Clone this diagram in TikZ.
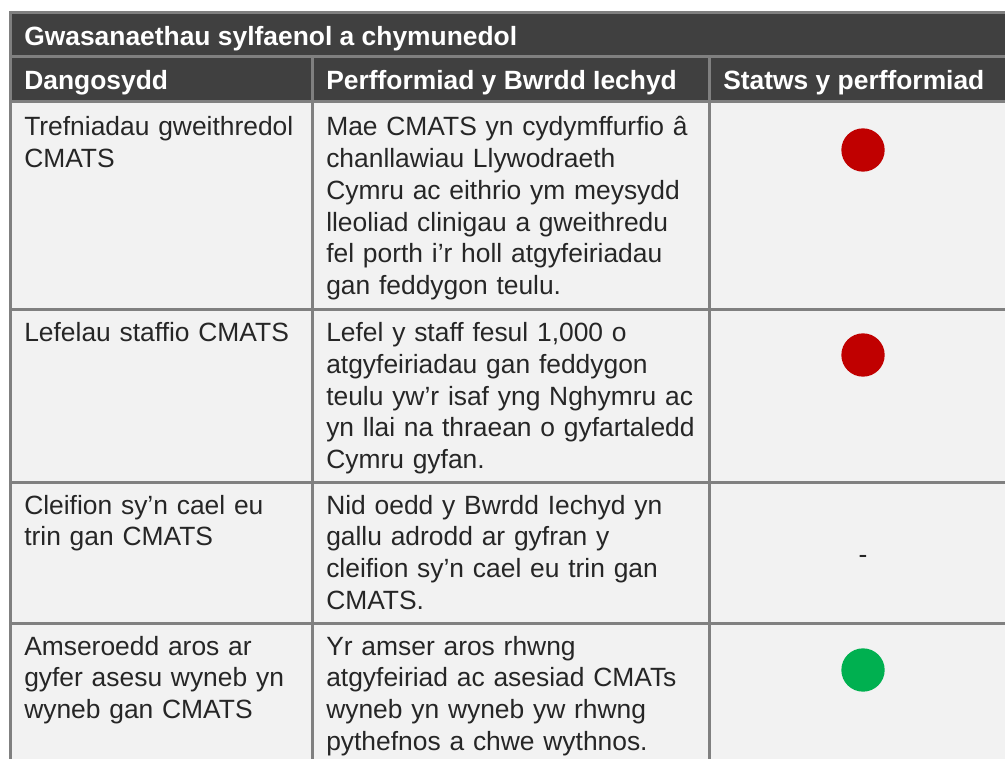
\documentclass[tikz,border=0pt]{standalone}
\usepackage{fontspec}
\setmainfont{Liberation Sans}
\definecolor{headgrey}{HTML}{404040}
\definecolor{cellgrey}{HTML}{F2F2F2}
\definecolor{rulegrey}{HTML}{808080}
\definecolor{textgrey}{HTML}{262626}
\definecolor{ragred}{HTML}{C00000}
\definecolor{raggreen}{HTML}{00B050}

\begin{document}
\begin{tikzpicture}[x=0.75pt,y=-0.75pt,
  every node/.style={inner sep=0pt,anchor=base west,align=left,text=textgrey,
    font=\fontsize{19.8}{23.8}\selectfont},
  head/.style={text=white,font=\bfseries\fontsize{19.8}{23.8}\selectfont},
  colA/.style={text width=220pt},
  colB/.style={text width=295pt},
  rag/.style={circle,anchor=center,minimum size=32.5pt}]
\useasboundingbox (0,0) rectangle (1005,759);
\clip (0,0) rectangle (1005,759);
% backgrounds
\fill[cellgrey] (10,102) rectangle (1010,770);
\fill[headgrey] (10,12) rectangle (1010,102);
% header
\node[head] (title) at (24,45.7) {Gwasanaethau sylfaenol a chymunedol};
\node[head] (hdind) at (24,90) {Dangosydd};
\node[head] (hdperf) at (326,90) {Perfformiad y Bwrdd Iechyd};
\node[head] (hdstat) at (723,90) {Statws y perfformiad};
% row 1
\node[colA] (ind1) at (24,136) {Trefniadau gweithredol\\CMATS};
\node[colB] (perf1) at (326,136) {Mae CMATS yn cydymffurfio â\\chanllawiau Llywodraeth\\Cymru ac eithrio ym meysydd\\lleoliad clinigau a gweithredu\\fel porth i’r holl atgyfeiriadau\\gan feddygon teulu.};
\node[rag,fill=ragred] (stat1) at (863,150) {};
% row 2
\node[colA] (ind2) at (24,341.7) {Lefelau staffio CMATS};
\node[colB] (perf2) at (326,341.7) {Lefel y staff fesul 1,000 o\\atgyfeiriadau gan feddygon\\teulu yw’r isaf yng Nghymru ac\\yn llai na thraean o gyfartaledd\\Cymru gyfan.};
\node[rag,fill=ragred] (stat2) at (863,355) {};
% row 3
\node[colA] (ind3) at (24,514) {Cleifion sy’n cael eu\\trin gan CMATS};
\node[colB] (perf3) at (326,514) {Nid oedd y Bwrdd Iechyd yn\\gallu adrodd ar gyfran y\\cleifion sy’n cael eu trin gan\\CMATS.};
\node[anchor=base] (stat3) at (863,563) {-};
% row 4
\node[colA] (ind4) at (24,655) {Amseroedd aros ar\\gyfer asesu wyneb yn\\wyneb gan CMATS};
\node[colB] (perf4) at (326,655) {Yr amser aros rhwng\\atgyfeiriad ac asesiad CMATs\\wyneb yn wyneb yw rhwng\\pythefnos a chwe wythnos.};
\node[rag,fill=raggreen] (stat4) at (863,670) {};
% rules
\foreach \y in {12.5,57,102,309,482,623}
  \draw[rulegrey,line width=2.25pt] (9,\y) -- (1010,\y);
\draw[rulegrey,line width=2.25pt] (10.5,11) -- (10.5,770);
\foreach \x in {312,709}
  \draw[rulegrey,line width=2.25pt] (\x,57) -- (\x,770);
\end{tikzpicture}
\end{document}
